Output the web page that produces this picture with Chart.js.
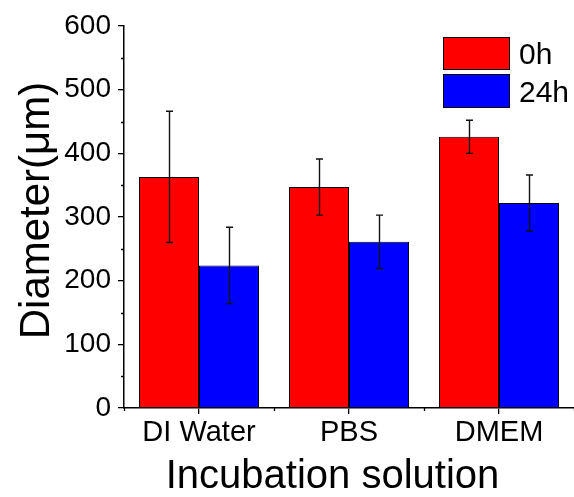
<!DOCTYPE html>
<html>
<head>
<meta charset="utf-8">
<script src="https://cdn.jsdelivr.net/npm/chart.js@4"></script>
<style>
  html, body { margin: 0; padding: 0; background: #fff; }
  #wrap { width: 574px; height: 497px; position: relative; }
</style>
</head>
<body>
<div id="wrap"><canvas id="c" width="574" height="497"></canvas></div>
<script>
const categories = ['DI Water', 'PBS', 'DMEM'];
const seriesLabels = ['0h', '24h'];
const values0h = [363, 347, 426];
const values24h = [224, 261, 322];
const errors0h = [103, 44, 26];
const errors24h = [60, 42, 44];
const yTicks = [0, 100, 200, 300, 400, 500, 600];
const yMinorTicks = [50, 150, 250, 350, 450, 550];
const xTitle = 'Incubation solution';
const yTitle = 'Diameter(\u03bcm)';

const FONT = '"Liberation Sans", Arial, sans-serif';

const errorBarPlugin = {
  id: 'errorBars',
  afterDatasetsDraw(chart) {
    const ctx = chart.ctx;
    const y = chart.scales.y;
    ctx.save();
    ctx.strokeStyle = '#111';
    ctx.lineWidth = 1.4;
    chart.data.datasets.forEach((ds, di) => {
      const meta = chart.getDatasetMeta(di);
      meta.data.forEach((bar, i) => {
        const v = ds.data[i], e = ds.errors[i];
        const x = Math.round(bar.x) + 0.5;
        const yt = y.getPixelForValue(v + e);
        const yb = y.getPixelForValue(v - e);
        ctx.beginPath();
        ctx.moveTo(x, yt); ctx.lineTo(x, yb);
        ctx.moveTo(x - 3.5, yt); ctx.lineTo(x + 3.5, yt);
        ctx.moveTo(x - 3.5, yb); ctx.lineTo(x + 3.5, yb);
        ctx.stroke();
      });
    });
    ctx.restore();
  }
};

const decorPlugin = {
  id: 'decor',
  afterDraw(chart) {
    const ctx = chart.ctx;
    const ys = chart.scales.y, xs = chart.scales.x;
    const area = chart.chartArea;
    ctx.save();
    ctx.strokeStyle = '#000';
    ctx.lineWidth = 1.3;
    ctx.beginPath();
    yMinorTicks.forEach(v => {
      const p = Math.round(ys.getPixelForValue(v)) + 0.5;
      ctx.moveTo(area.left - 3, p); ctx.lineTo(area.left, p);
    });
    const step = xs.getPixelForValue(1) - xs.getPixelForValue(0);
    for (let i = 0; i <= categories.length; i++) {
      const p = xs.getPixelForValue(0) + (i - 0.5) * step;
      const px = Math.round(p) + 0.5;
      ctx.moveTo(px, area.bottom); ctx.lineTo(px, area.bottom + 3);
    }
    ctx.stroke();

    ctx.fillStyle = '#000';
    ctx.font = '40px ' + FONT;
    ctx.textAlign = 'center';
    ctx.textBaseline = 'alphabetic';
    ctx.fillText(xTitle, 332.5, 488);

    ctx.save();
    ctx.translate(49, 210.5);
    ctx.rotate(-Math.PI / 2);
    ctx.font = '42px ' + FONT;
    ctx.fillText(yTitle, 0, 0);
    ctx.restore();

    const boxes = [[443, 37, 67, 33, 64], [443, 74, 67, 34, 101.7]];
    chart.data.datasets.forEach((ds, i) => {
      const b = boxes[i];
      ctx.fillStyle = ds.backgroundColor;
      ctx.fillRect(b[0], b[1], b[2], b[3]);
      ctx.strokeStyle = '#000';
      ctx.lineWidth = 1;
      ctx.strokeRect(b[0] + 0.5, b[1] + 0.5, b[2] - 1, b[3] - 1);
      ctx.fillStyle = '#000';
      ctx.font = '30px ' + FONT;
      ctx.textAlign = 'left';
      ctx.fillText(ds.label, 519, b[4]);
    });
    ctx.restore();
  }
};

new Chart(document.getElementById('c'), {
  type: 'bar',
  data: {
    labels: categories,
    datasets: [
      { label: seriesLabels[0], data: values0h, errors: errors0h,
        backgroundColor: '#ff0000', borderColor: '#000', borderWidth: 1 },
      { label: seriesLabels[1], data: values24h, errors: errors24h,
        backgroundColor: '#0000ff', borderColor: '#000', borderWidth: 1 }
    ]
  },
  options: {
    responsive: false,
    animation: false,
    devicePixelRatio: 1,
    layout: { padding: { top: 26, right: 0, bottom: 0, left: 0 } },
    datasets: { bar: { categoryPercentage: 0.8, barPercentage: 1.0 } },
    plugins: { legend: { display: false }, tooltip: { enabled: false } },
    scales: {
      x: {
        grid: { display: true, drawOnChartArea: false, offset: false, tickLength: 6, color: '#000', lineWidth: 1.3 },
        border: { display: true, color: '#000', width: 1.5 },
        ticks: { color: '#000', font: { family: FONT, size: 29 }, padding: 2, maxRotation: 0 },
        afterFit(s) { s.height = 89; }
      },
      y: {
        min: 0, max: 600,
        afterBuildTicks(s) { s.ticks = yTicks.map(v => ({ value: v })); },
        grid: { display: true, drawOnChartArea: false, tickLength: 6, color: '#000', lineWidth: 1.3 },
        border: { display: true, color: '#000', width: 1.5 },
        ticks: { color: '#000', font: { family: FONT, size: 28 }, padding: 7 },
        afterFit(s) { s.width = 124; }
      }
    }
  },
  plugins: [errorBarPlugin, decorPlugin]
});
</script>
</body>
</html>
